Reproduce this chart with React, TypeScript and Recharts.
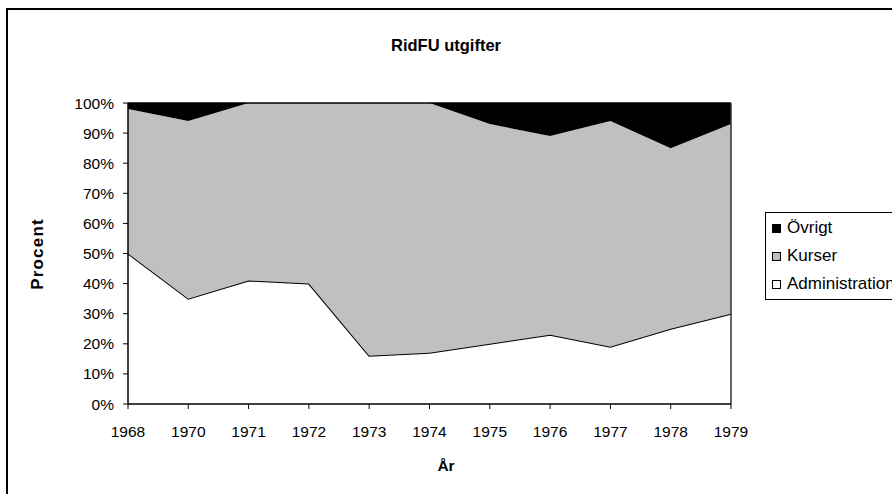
import React from 'react';
import { AreaChart, Area, XAxis, YAxis, Legend, ReferenceLine } from 'recharts';

const years = ['1968', '1970', '1971', '1972', '1973', '1974', '1975', '1976', '1977', '1978', '1979'];
const administration = [50, 35, 41, 40, 16, 17, 20, 23, 19, 25, 30];
const kurser = [48, 59, 59, 60, 84, 83, 73, 66, 75, 60, 63];
const ovrigt = [2, 6, 0, 0, 0, 0, 7, 11, 6, 15, 7];
const yTicks = [0, 10, 20, 30, 40, 50, 60, 70, 80, 90, 100];

const seriesNames = ['Administration', 'Kurser', 'Övrigt'];
const seriesFill = ['#FFFFFF', '#C0C0C0', '#000000'];

const data = years.map((year, i) => ({
  year,
  Administration: administration[i],
  Kurser: kurser[i],
  'Övrigt': ovrigt[i],
}));

const FONT = '"Liberation Sans", Arial, sans-serif';

const legendOrder = [2, 1, 0];

const renderLegend = () => (
  <div
    style={{
      border: '1px solid #000',
      width: 200,
      height: 88,
      paddingTop: 1,
      boxSizing: 'border-box',
      background: '#fff',
      fontFamily: FONT,
      fontSize: 17,
      color: '#000',
    }}
  >
    {legendOrder.map((idx) => (
      <div key={seriesNames[idx]} style={{ height: 28, display: 'flex', alignItems: 'center' }}>
        <span
          style={{
            display: 'inline-block',
            width: 9,
            height: 9,
            marginLeft: 6,
            marginRight: 6,
            background: seriesFill[idx],
            border: '1px solid #000',
            boxSizing: 'border-box',
          }}
        />
        <span style={{ whiteSpace: 'nowrap' }}>{seriesNames[idx]}</span>
      </div>
    ))}
  </div>
);

export default function App() {
  return (
    <div
      style={{
        position: 'absolute',
        left: 0,
        top: 0,
        width: 892,
        height: 494,
        overflow: 'hidden',
        background: '#fff',
        fontFamily: FONT,
      }}
    >
      <div
        style={{
          position: 'absolute',
          left: 6,
          top: 8,
          width: 1000,
          height: 600,
          borderTop: '2px solid #000',
          borderLeft: '2px solid #000',
        }}
      />
      <div style={{ position: 'absolute', left: 0, top: 0 }}>
        <AreaChart
          width={892}
          height={494}
          data={data}
          margin={{ top: 103, right: 161, bottom: 60, left: 68 }}
        >
          <text x={446} y={51} textAnchor="middle" fontFamily={FONT} fontSize={16.5} fontWeight="bold" fill="#000">
            RidFU utgifter
          </text>
          <XAxis
            dataKey="year"
            interval={0}
            height={30}
            tickSize={5}
            tickMargin={17}
            tick={{ fill: '#000', fontSize: 15.5, fontFamily: FONT }}
            tickLine={{ stroke: '#000' }}
            axisLine={{ stroke: '#000', strokeWidth: 1.5 }}
            label={{
              content: () => (
                <text x={446} y={471} textAnchor="middle" fontFamily={FONT} fontSize={15.5} fontWeight="bold" fill="#000">
                  År
                </text>
              ),
            }}
          />
          <YAxis
            type="number"
            width={60}
            domain={[0, 100]}
            ticks={yTicks}
            interval={0}
            tickFormatter={(v: number) => `${v}%`}
            tickSize={5}
            tickMargin={9}
            tick={{ fill: '#000', fontSize: 15.5, fontFamily: FONT }}
            tickLine={{ stroke: '#000' }}
            axisLine={{ stroke: '#000', strokeWidth: 1.5 }}
            label={{
              content: () => (
                <text
                  x={43}
                  y={254}
                  transform="rotate(-90 43 254)"
                  textAnchor="middle"
                  fontFamily={FONT}
                  fontSize={17}
                  fontWeight="bold"
                  letterSpacing={1.2}
                  fill="#000"
                >
                  Procent
                </text>
              ),
            }}
          />
          <Area
            type="linear"
            dataKey="Administration"
            stackId="1"
            fill={seriesFill[0]}
            fillOpacity={1}
            stroke="#000"
            strokeWidth={2}
            dot={false}
            activeDot={false}
            isAnimationActive={false}
          />
          <Area
            type="linear"
            dataKey="Kurser"
            stackId="1"
            fill={seriesFill[1]}
            fillOpacity={1}
            stroke="none"
            dot={false}
            activeDot={false}
            isAnimationActive={false}
          />
          <Area
            type="linear"
            dataKey="Övrigt"
            stackId="1"
            fill={seriesFill[2]}
            fillOpacity={1}
            stroke="#000"
            strokeWidth={1.5}
            dot={false}
            activeDot={false}
            isAnimationActive={false}
          />
          <ReferenceLine x="1979" stroke="#333" strokeWidth={1.5} />
          <Legend
            layout="vertical"
            align="center"
            verticalAlign="middle"
            content={renderLegend}
            wrapperStyle={{ left: 765, top: 212, width: 200, height: 88 }}
          />
        </AreaChart>
      </div>
    </div>
  );
}
